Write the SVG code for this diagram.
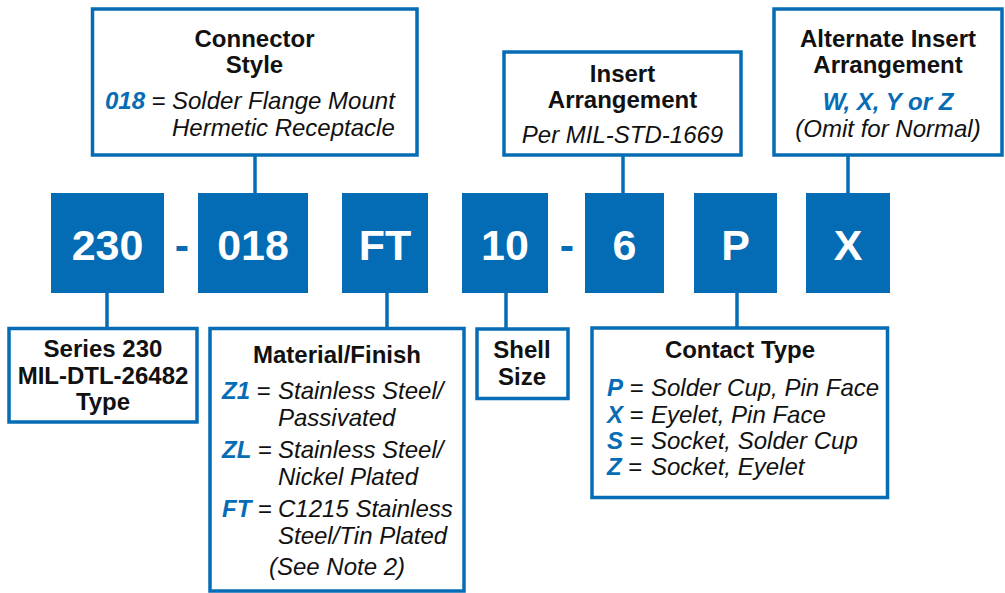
<svg xmlns="http://www.w3.org/2000/svg" width="1005" height="593" viewBox="0 0 1005 593">
<style>
  .box { fill: #ffffff; stroke: #066cb5; stroke-width: 3.5; }
  .code { fill: #046bb5; }
  .codetxt { font-family: "Liberation Sans", Arial, sans-serif; font-weight: bold; font-size: 43px; fill: #ffffff; text-anchor: middle; }
  .dash { font-family: "Liberation Sans", Arial, sans-serif; font-weight: bold; font-size: 43px; fill: #066cb5; text-anchor: middle; }
  .t { font-family: "Liberation Sans", Arial, sans-serif; font-size: 24px; fill: #111111; }
  .h { font-weight: bold; text-anchor: middle; }
  .i { font-style: italic; }
  .k { font-weight: bold; font-style: italic; fill: #066cb5; }
  .c { text-anchor: middle; }
  .conn { stroke: #066cb5; stroke-width: 3.5; fill: none; }
</style>

<g id="connectors">
  <line class="conn" x1="255" y1="155" x2="255" y2="194"/>
  <line class="conn" x1="623" y1="155" x2="623" y2="194"/>
  <line class="conn" x1="848" y1="155" x2="848" y2="194"/>
  <line class="conn" x1="107" y1="292" x2="107" y2="329"/>
  <line class="conn" x1="387" y1="292" x2="387" y2="329"/>
  <line class="conn" x1="506" y1="292" x2="506" y2="329"/>
  <line class="conn" x1="737" y1="292" x2="737" y2="328"/>
</g>

<g id="code-230">
  <rect class="code" x="51" y="193" width="113" height="100"/>
  <text class="codetxt" x="107.5" y="260">230</text>
</g>
<g id="dash-1"><text class="dash" x="182" y="260">-</text></g>
<g id="code-018">
  <rect class="code" x="198" y="193" width="110" height="100"/>
  <text class="codetxt" x="253" y="260">018</text>
</g>
<g id="code-FT">
  <rect class="code" x="342" y="193" width="86" height="100"/>
  <text class="codetxt" x="385" y="260">FT</text>
</g>
<g id="code-10">
  <rect class="code" x="462" y="193" width="86" height="100"/>
  <text class="codetxt" x="505" y="260">10</text>
</g>
<g id="dash-2"><text class="dash" x="567" y="260">-</text></g>
<g id="code-6">
  <rect class="code" x="585" y="193" width="79" height="100"/>
  <text class="codetxt" x="624.5" y="260">6</text>
</g>
<g id="code-P">
  <rect class="code" x="694" y="193" width="83" height="100"/>
  <text class="codetxt" x="735.5" y="260">P</text>
</g>
<g id="code-X">
  <rect class="code" x="806" y="193" width="84" height="100"/>
  <text class="codetxt" x="848" y="260">X</text>
</g>

<g id="connector-style">
  <rect class="box" x="92.5" y="9" width="324.5" height="146"/>
  <text class="t h" x="254.5" y="47">Connector</text>
  <text class="t h" x="254.5" y="73">Style</text>
  <text class="t" x="105" y="109"><tspan class="k">018</tspan> = <tspan class="i" x="172">Solder Flange Mount</tspan></text>
  <text class="t i" x="172" y="136">Hermetic Receptacle</text>
</g>

<g id="insert-arrangement">
  <rect class="box" x="504" y="52" width="237" height="103"/>
  <text class="t h" x="622.5" y="82">Insert</text>
  <text class="t h" x="622.5" y="108">Arrangement</text>
  <text class="t i c" x="622.5" y="143">Per MIL-STD-1669</text>
</g>

<g id="alternate-insert">
  <rect class="box" x="774" y="9" width="228" height="146"/>
  <text class="t h" x="888" y="47">Alternate Insert</text>
  <text class="t h" x="888" y="73">Arrangement</text>
  <text class="t k c" x="888" y="110">W, X, Y or Z</text>
  <text class="t i c" x="888" y="137">(Omit for Normal)</text>
</g>

<g id="series">
  <rect class="box" x="9" y="328.5" width="188" height="93.5"/>
  <text class="t h" x="103" y="357">Series 230</text>
  <text class="t h" x="103" y="384">MIL-DTL-26482</text>
  <text class="t h" x="103" y="410">Type</text>
</g>

<g id="material-finish">
  <rect class="box" x="210" y="328.5" width="254" height="262.5"/>
  <text class="t h" x="337" y="363">Material/Finish</text>
  <text class="t" x="222" y="399"><tspan class="k">Z1</tspan> = <tspan class="i" x="278">Stainless Steel/</tspan></text>
  <text class="t i" x="278" y="426">Passivated</text>
  <text class="t" x="222" y="457.5"><tspan class="k">ZL</tspan> = <tspan class="i" x="278">Stainless Steel/</tspan></text>
  <text class="t i" x="278" y="484.5">Nickel Plated</text>
  <text class="t" x="222" y="516.5"><tspan class="k">FT</tspan> = <tspan class="i" x="278">C1215 Stainless</tspan></text>
  <text class="t i" x="278" y="543.5">Steel/Tin Plated</text>
  <text class="t i c" x="337" y="575">(See Note 2)</text>
</g>

<g id="shell-size">
  <rect class="box" x="477" y="329" width="91" height="69.5"/>
  <text class="t h" x="522" y="357.5">Shell</text>
  <text class="t h" x="522" y="384.5">Size</text>
</g>

<g id="contact-type">
  <rect class="box" x="592" y="328" width="295.5" height="169.5"/>
  <text class="t h" x="740" y="357.5">Contact Type</text>
  <text class="t" x="607" y="396"><tspan class="k">P</tspan> = <tspan class="i" x="651">Solder Cup, Pin Face</tspan></text>
  <text class="t" x="607" y="422.5"><tspan class="k">X</tspan> = <tspan class="i" x="651">Eyelet, Pin Face</tspan></text>
  <text class="t" x="607" y="448.5"><tspan class="k">S</tspan> = <tspan class="i" x="651">Socket, Solder Cup</tspan></text>
  <text class="t" x="607" y="475"><tspan class="k">Z</tspan> = <tspan class="i" x="651">Socket, Eyelet</tspan></text>
</g>
</svg>
